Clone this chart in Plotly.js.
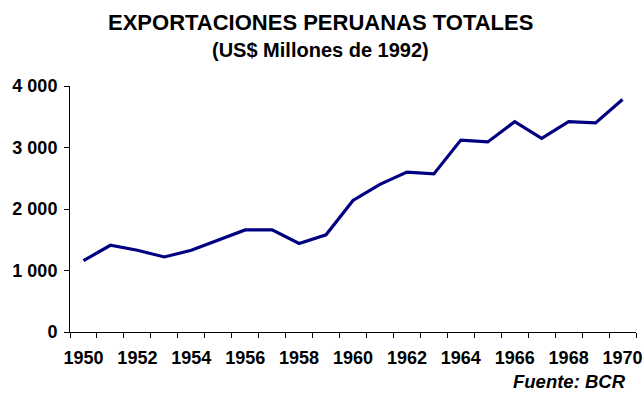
<!DOCTYPE html>
<html>
<head>
<meta charset="utf-8">
<script src="https://cdn.plot.ly/plotly-3.0.1.min.js"></script>
<style>html,body{margin:0;padding:0;background:#fff;}#chart{width:643px;height:400px;}</style>
</head>
<body>
<div id="chart"></div>
<script>
var years = [1950,1951,1952,1953,1954,1955,1956,1957,1958,1959,1960,1961,1962,1963,1964,1965,1966,1967,1968,1969,1970];
var exportaciones = [1160,1410,1330,1220,1330,1490,1660,1660,1440,1580,2140,2400,2600,2570,3120,3090,3420,3150,3420,3400,3780];
var yearLabels = ['1950','1952','1954','1956','1958','1960','1962','1964','1966','1968','1970'];
var yearLabelVals = [1950,1952,1954,1956,1958,1960,1962,1964,1966,1968,1970];
var yTicks = [0,1000,2000,3000,4000];

var font = 'Liberation Sans, Arial, sans-serif';
var trace = {
  x: years, y: exportaciones, type: 'scatter', mode: 'lines',
  line: {color: '#000080', width: 3.2},
  hoverinfo: 'skip'
};
var layout = {
  width: 643, height: 400,
  margin: {l: 70, r: 7, t: 86, b: 68},
  paper_bgcolor: '#ffffff', plot_bgcolor: '#ffffff',
  showlegend: false,
  separators: '. ',
  font: {family: font, color: '#000000'},
  xaxis: {
    range: [1949.5, 1970.5], showgrid: false, zeroline: false,
    showline: true, linecolor: '#000000', linewidth: 1,
    tickmode: 'array', tickvals: yearLabelVals, ticktext: yearLabels,
    ticks: '', ticklen: 0, ticklabelstandoff: 9,
    tickfont: {family: font, size: 18, color: '#000000', weight: 'bold'},
    minor: {tick0: 1949.5, dtick: 1, ticks: 'outside', ticklen: 5, tickcolor: '#000000', tickwidth: 1, showgrid: false},
    fixedrange: true
  },
  yaxis: {
    range: [0, 4000], showgrid: false, zeroline: false,
    showline: true, linecolor: '#000000', linewidth: 1,
    tickmode: 'array', tickvals: yTicks, tickformat: ',d',
    ticks: 'outside', ticklen: 5, tickcolor: '#000000', ticklabelstandoff: 3,
    tickfont: {family: font, size: 18, color: '#000000', weight: 'bold'},
    fixedrange: true
  },
  annotations: [
    {text: '<b>EXPORTACIONES PERUANAS TOTALES</b>', xref: 'paper', yref: 'paper', x: (320 - 70) / 566, y: 1.26, xanchor: 'center', yanchor: 'middle', showarrow: false, font: {family: font, size: 22, color: '#000000'}},
    {text: '<b>(US$ Millones de 1992)</b>', xref: 'paper', yref: 'paper', x: (320 - 70) / 566, y: 1.146, xanchor: 'center', yanchor: 'middle', showarrow: false, font: {family: font, size: 20, color: '#000000'}},
    {text: '<b><i>Fuente: BCR</i></b>', xref: 'paper', yref: 'paper', x: 0.986, y: -0.203, xanchor: 'right', yanchor: 'middle', showarrow: false, font: {family: font, size: 18.5, color: '#000000'}}
  ]
};
Plotly.newPlot('chart', [trace], layout, {displayModeBar: false, staticPlot: true});
</script>
</body>
</html>
